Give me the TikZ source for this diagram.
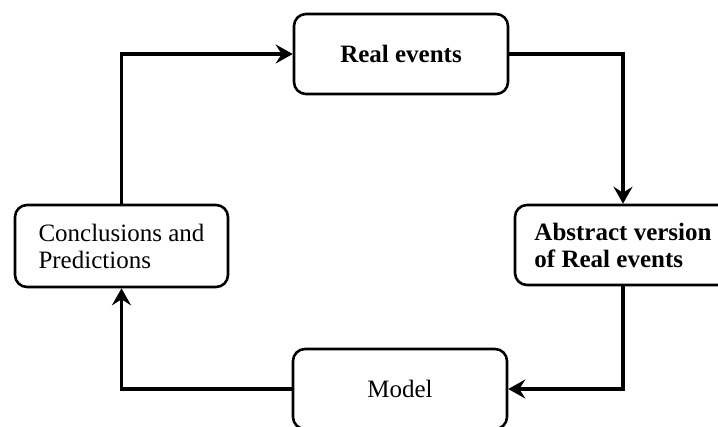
\documentclass[tikz,border=0pt]{standalone}
\usepackage{fontspec}
\setmainfont{Liberation Serif}
\usetikzlibrary{arrows.meta}

\tikzset{
  box/.style={draw, line width=2.6pt, rounded corners=12pt, minimum width=214pt,
    minimum height=80pt, align=left, font=\fontsize{25}{27}\selectfont},
  flow/.style={line width=3.4pt, -{Stealth[length=17pt,width=19pt,inset=6pt]}}
}

\begin{document}
\begin{tikzpicture}[x=1pt,y=-1pt]
    \clip (0,0) rectangle (718,426);
    \node[box] (real) at (401,54) {\textbf{Real events}};
    \node[box, minimum width=216pt] (abstract) at (623,245) {\textbf{Abstract version}\\\textbf{of Real events}};
    \node[box] (model) at (400,389) {Model};
    \node[box, minimum width=213pt, minimum height=82pt] (concl) at (121.5,246) {Conclusions and\\Predictions};
    \draw[flow] (concl.north) |- (real.west);
    \draw[flow] (real.east) -| (abstract.north);
    \draw[flow] (abstract.south) |- (model.east);
    \draw[flow] (model.west) -| (concl.south);
  \end{tikzpicture}
\end{document}
